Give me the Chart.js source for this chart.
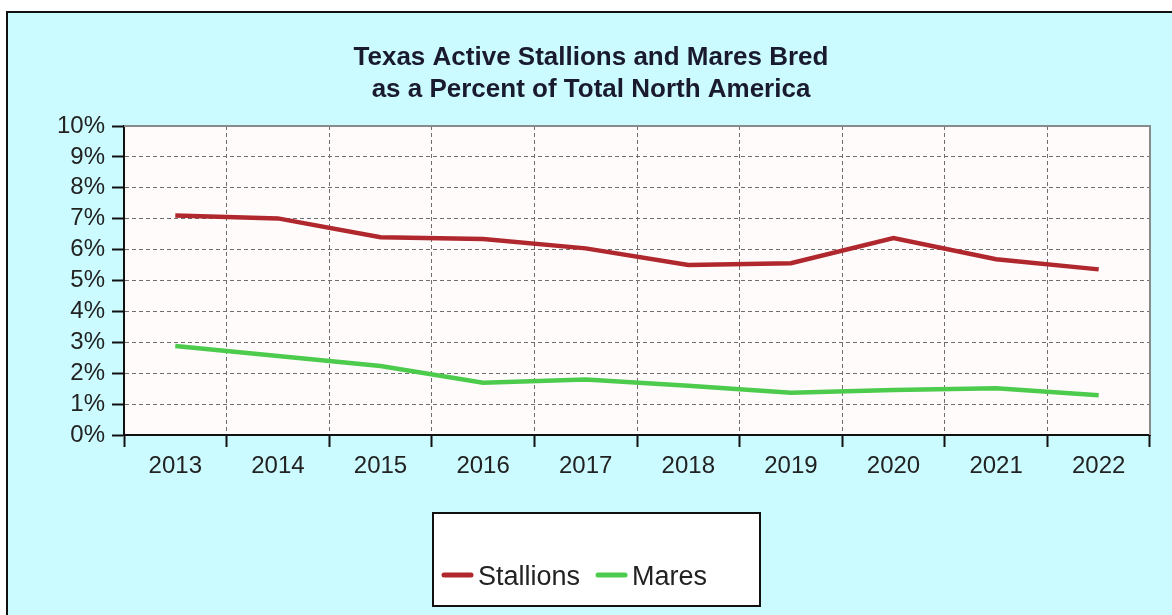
<!DOCTYPE html>
<html>
<head>
<meta charset="utf-8">
<script src="https://cdn.jsdelivr.net/npm/chart.js@4.4.1/dist/chart.umd.min.js"></script>
<style>
html,body{margin:0;padding:0;background:#ffffff;}
#wrap{width:1172px;height:615px;position:relative;}
canvas{display:block;}
</style>
</head>
<body>
<div id="wrap"><canvas id="c" width="1172" height="615"></canvas></div>
<script>
const titleLines = ["Texas Active Stallions and Mares Bred", "as a Percent of Total North America"];
const years = ["2013","2014","2015","2016","2017","2018","2019","2020","2021","2022"];
const stallions = [7.10, 7.01, 6.40, 6.34, 6.04, 5.50, 5.56, 6.37, 5.69, 5.36];
const mares = [2.88, 2.56, 2.23, 1.69, 1.80, 1.59, 1.37, 1.46, 1.51, 1.29];
const seriesNames = ["Stallions", "Mares"];
const seriesColors = ["#b0282d", "#4ccb4c"];
const yMin = 0, yMax = 10, yStep = 1;

const FONT = "'Liberation Sans', Arial, sans-serif";

const framePlugin = {
  id: 'frame',
  beforeDraw(chart) {
    const ctx = chart.ctx;
    const a = chart.chartArea;
    ctx.save();
    ctx.fillStyle = '#ffffff';
    ctx.fillRect(0, 0, chart.width, chart.height);
    ctx.fillStyle = '#ccfbff';
    ctx.fillRect(7, 12, chart.width, chart.height);
    ctx.strokeStyle = '#111111';
    ctx.lineWidth = 2;
    ctx.strokeRect(7, 12, chart.width + 20, chart.height + 20);
    ctx.fillStyle = '#fffbfb';
    ctx.fillRect(a.left, a.top, a.right - a.left, a.bottom - a.top);
    ctx.restore();
  },
  beforeDatasetsDraw(chart) {
    const ctx = chart.ctx;
    const a = chart.chartArea;
    ctx.save();
    ctx.strokeStyle = '#8a8a8a';
    ctx.lineWidth = 2;
    ctx.beginPath();
    ctx.moveTo(a.left, a.top);
    ctx.lineTo(a.right, a.top);
    ctx.lineTo(a.right, a.bottom);
    ctx.stroke();
    ctx.restore();
  },
  afterDraw(chart) {
    const ctx = chart.ctx;
    ctx.save();
    // legend box
    const bx = 433, by = 513, bw = 327, bh = 93;
    ctx.fillStyle = '#ffffff';
    ctx.fillRect(bx, by, bw, bh);
    ctx.strokeStyle = '#111111';
    ctx.lineWidth = 2;
    ctx.strokeRect(bx, by, bw, bh);
    ctx.font = '27px ' + FONT;
    ctx.textBaseline = 'middle';
    ctx.fillStyle = '#222222';
    let x = 442;
    const y = 578;
    chart.data.datasets.forEach((ds) => {
      ctx.strokeStyle = ds.borderColor;
      ctx.lineWidth = 5;
      ctx.lineCap = 'round';
      ctx.beginPath();
      ctx.moveTo(x + 2, y - 3);
      ctx.lineTo(x + 29, y - 3);
      ctx.stroke();
      ctx.fillStyle = '#222222';
      ctx.fillText(ds.label, x + 36, y);
      x += 36 + ctx.measureText(ds.label).width + 16;
    });
    ctx.restore();
  }
};

new Chart(document.getElementById('c'), {
  type: 'line',
  data: {
    labels: years,
    datasets: [
      { label: seriesNames[0], data: stallions, borderColor: seriesColors[0], backgroundColor: seriesColors[0], borderWidth: 4.5, pointRadius: 0, tension: 0, fill: false },
      { label: seriesNames[1], data: mares, borderColor: seriesColors[1], backgroundColor: seriesColors[1], borderWidth: 4.5, pointRadius: 0, tension: 0, fill: false }
    ]
  },
  options: {
    responsive: false,
    animation: false,
    devicePixelRatio: 1,
    layout: { padding: { left: 32, right: 22, top: 0, bottom: 0 } },
    plugins: {
      legend: { display: false },
      tooltip: { enabled: false },
      title: {
        display: true,
        text: titleLines,
        color: '#1a1a2e',
        font: { family: FONT, size: 26, weight: 'bold', lineHeight: '32px' },
        padding: { top: 42, bottom: 20 }
      }
    },
    scales: {
      x: {
        offset: true,
        grid: { offset: true, color: '#6e6e6e', lineWidth: 1, tickLength: 12, tickColor: '#111111', tickWidth: 2, drawTicks: true },
        border: { display: true, color: '#111111', width: 2, dash: [4, 3] },
        ticks: { color: '#222222', font: { family: FONT, size: 24 }, padding: 5, maxRotation: 0, autoSkip: false },
        afterFit(scale) { scale.height = 180; }
      },
      y: {
        min: yMin, max: yMax,
        grid: { color: '#6e6e6e', lineWidth: 1, tickLength: 12, tickColor: '#111111', tickWidth: 2, drawTicks: true },
        border: { display: true, color: '#111111', width: 2, dash: [4, 3] },
        ticks: { stepSize: yStep, autoSkip: false, color: '#222222', font: { family: FONT, size: 24 }, padding: 7, callback: (v) => v + '%' },
        afterFit(scale) { scale.width = 92; }
      }
    }
  },
  plugins: [framePlugin]
});
</script>
</body>
</html>
